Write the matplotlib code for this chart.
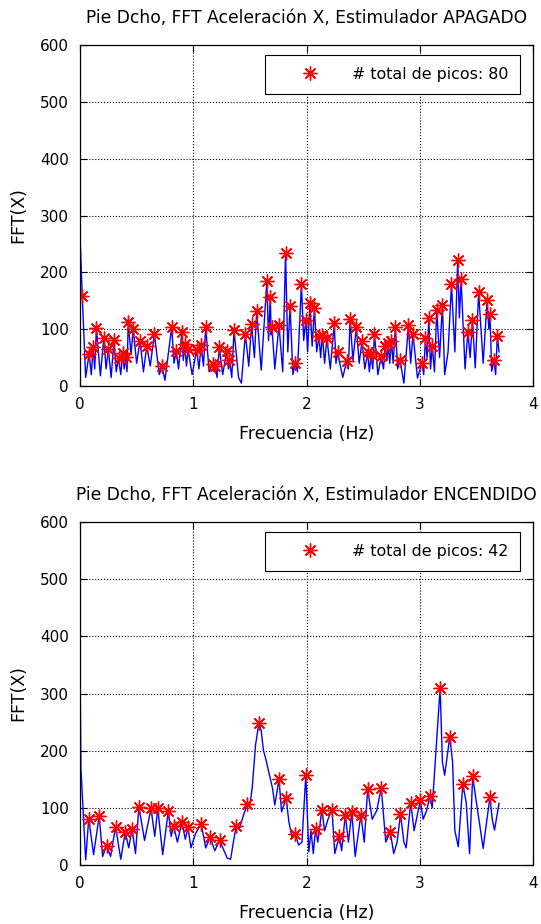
import numpy as np
import matplotlib
matplotlib.use('Agg')
import matplotlib.pyplot as plt

plt.rcParams['font.family'] = ['DejaVu Sans']

# picos detectados, estimulador apagado (Hz, amplitud)
off_peak_f = [0.02, 0.08, 0.115, 0.145, 0.21, 0.25, 0.30, 0.34, 0.376, 0.405,
              0.426, 0.47, 0.53, 0.59, 0.657, 0.725, 0.81, 0.85, 0.90, 0.925,
              0.955, 1.03, 1.07, 1.11, 1.17, 1.195, 1.23, 1.295, 1.32, 1.36,
              1.46, 1.515, 1.56, 1.65, 1.68, 1.695, 1.757, 1.815, 1.855, 1.90,
              1.955, 1.995, 2.03, 2.07, 2.11, 2.14, 2.18, 2.245, 2.275, 2.355,
              2.385, 2.44, 2.49, 2.54, 2.57, 2.60, 2.66, 2.695, 2.72, 2.75,
              2.785, 2.825, 2.90, 2.94, 3.02, 3.05, 3.08, 3.11, 3.15, 3.20,
              3.28, 3.335, 3.365, 3.425, 3.465, 3.52, 3.595, 3.62, 3.655, 3.685]
off_peak_v = [158, 56, 68, 102, 85, 65, 81, 49, 58, 51,
              113, 101, 80, 71, 91, 35, 104, 62, 95, 74,
              65, 64, 72, 104, 39, 36, 68, 61, 45, 98,
              92, 109, 132, 184, 157, 103, 107, 234, 141, 41,
              179, 117, 146, 137, 88, 90, 85, 110, 59, 44,
              118, 104, 79, 59, 56, 92, 53, 70, 75, 80,
              103, 46, 107, 92, 41, 85, 120, 70, 134, 143,
              179, 221, 188, 95, 116, 165, 152, 126, 45, 88]

# resto de la FFT (valles), estimulador apagado
off_line_f = [0.0, 0.05, 0.10, 0.13, 0.18, 0.23, 0.275, 0.32, 0.36, 0.39,
              0.415, 0.45, 0.50, 0.56, 0.62, 0.70, 0.75, 0.83, 0.87, 0.912,
              0.94, 0.99, 1.05, 1.09, 1.14, 1.185, 1.21, 1.26, 1.31, 1.34,
              1.40, 1.425, 1.49, 1.54, 1.60, 1.665, 1.688, 1.72, 1.79, 1.835,
              1.88, 1.92, 1.975, 2.01, 2.05, 2.09, 2.125, 2.16, 2.21, 2.26,
              2.32, 2.37, 2.41, 2.465, 2.515, 2.555, 2.585, 2.63, 2.68, 2.71,
              2.735, 2.765, 2.805, 2.86, 2.92, 2.98, 3.035, 3.065, 3.095, 3.13,
              3.175, 3.22, 3.25, 3.31, 3.35, 3.40, 3.445, 3.49, 3.56, 3.61,
              3.635, 3.67, 3.70]
off_line_v = [266, 15, 20, 30, 18, 30, 15, 25, 20, 30,
              25, 55, 40, 25, 35, 20, 10, 40, 30, 45,
              35, 20, 30, 35, 25, 25, 15, 20, 30, 15,
              15, 5, 35, 50, 28, 80, 90, 30, 25, 60,
              20, 25, 80, 60, 70, 60, 50, 40, 30, 40,
              15, 30, 45, 40, 30, 25, 30, 20, 30, 45,
              40, 40, 30, 5, 40, 14, 20, 50, 30, 25,
              50, 20, 60, 60, 120, 30, 50, 32, 40, 100,
              26, 20, 60]

# picos detectados, estimulador encendido
on_peak_f = [0.077, 0.169, 0.234, 0.314, 0.40, 0.46, 0.52, 0.627, 0.687, 0.78,
             0.826, 0.90, 0.953, 1.07, 1.15, 1.233, 1.38, 1.476, 1.58, 1.757,
             1.82, 1.90, 1.994, 2.08, 2.135, 2.225, 2.29, 2.343, 2.40, 2.48,
             2.54, 2.66, 2.74, 2.83, 2.92, 3.005, 3.09, 3.18, 3.265, 3.38,
             3.467, 3.62]
on_peak_v = [81, 86, 34, 67, 58, 63, 102, 99, 99, 95,
             69, 75, 66, 72, 49, 43, 69, 106, 249, 150,
             117, 55, 158, 63, 97, 97, 51, 88, 92, 88,
             133, 135, 58, 89, 109, 113, 121, 310, 224, 141,
             155, 119]

# resto de la FFT, estimulador encendido
on_line_f = [0.0, 0.008, 0.05, 0.12, 0.20, 0.27, 0.36, 0.43, 0.49, 0.57,
             0.66, 0.73, 0.805, 0.86, 0.93, 0.98, 1.02, 1.11, 1.19, 1.30,
             1.33, 1.35, 1.41, 1.44, 1.50, 1.52, 1.55, 1.60, 1.62, 1.64,
             1.67, 1.70, 1.72, 1.78, 1.845, 1.87, 1.93, 1.96, 2.02, 2.04,
             2.06, 2.10, 2.16, 2.19, 2.25, 2.31, 2.37, 2.43, 2.51, 2.58,
             2.62, 2.70, 2.77, 2.80, 2.86, 2.88, 2.95, 3.03, 3.06, 3.11,
             3.15, 3.20, 3.22, 3.29, 3.31, 3.34, 3.41, 3.44, 3.50, 3.56,
             3.58, 3.64, 3.66, 3.70]
on_line_v = [352, 170, 9, 18, 15, 15, 10, 30, 20, 43,
             50, 18, 50, 40, 45, 30, 55, 30, 25, 12,
             10, 35, 65, 85, 105, 134, 210, 235, 200, 186,
             160, 134, 105, 93, 75, 50, 35, 40, 23, 60,
             20, 40, 60, 80, 20, 25, 40, 15, 40, 80,
             95, 40, 20, 40, 40, 30, 60, 80, 95, 100,
             220, 180, 157, 180, 60, 32, 110, 20, 110, 29,
             60, 80, 61, 108]


def draw_panel(ax, title, line_f, line_v, peak_f, peak_v):
    # curva completa = valles + picos ordenados por frecuencia
    f = np.concatenate([line_f, peak_f])
    v = np.concatenate([line_v, peak_v])
    order = np.argsort(f)
    ax.plot(f[order], v[order], color='b', lw=1.0)
    ax.plot(peak_f, peak_v, linestyle='none', marker=(8, 2, 0), markersize=10,
            markeredgewidth=1.0, color='r', label='# total de picos: %d' % len(peak_f))

    ax.set_xlim(0, 4)
    ax.set_ylim(0, 600)
    ax.set_xticks([0, 1, 2, 3, 4])
    ax.set_yticks(range(0, 601, 100))
    ax.grid(True, color='k', linestyle=':', linewidth=0.8)
    ax.tick_params(direction='in', length=5, top=True, right=True, labelsize=11, pad=8)
    for s in ax.spines.values():
        s.set_linewidth(0.9)
    ax.set_title(title, fontsize=12.3, pad=16)
    ax.set_xlabel('Frecuencia (Hz)', fontsize=12.5, labelpad=9)
    ax.set_ylabel('FFT(X)', fontsize=12.5, labelpad=9)
    leg = ax.legend(loc='upper right', bbox_to_anchor=(0.971, 0.971), borderaxespad=0,
                    fontsize=11.4, fancybox=False, framealpha=1, edgecolor='k',
                    handlelength=4.2, handletextpad=0.5, borderpad=0.75)
    leg.get_frame().set_linewidth(0.8)


fig = plt.figure(figsize=(5.41, 9.24), dpi=100)
ax1 = fig.add_axes([80 / 541, 1 - 386 / 924, 453 / 541, 341 / 924])
ax2 = fig.add_axes([80 / 541, 1 - 865 / 924, 453 / 541, 343 / 924])

draw_panel(ax1, 'Pie Dcho, FFT Aceleración X, Estimulador APAGADO',
           off_line_f, off_line_v, off_peak_f, off_peak_v)
draw_panel(ax2, 'Pie Dcho, FFT Aceleración X, Estimulador ENCENDIDO',
           on_line_f, on_line_v, on_peak_f, on_peak_v)

fig.savefig('out.png', dpi=100)
